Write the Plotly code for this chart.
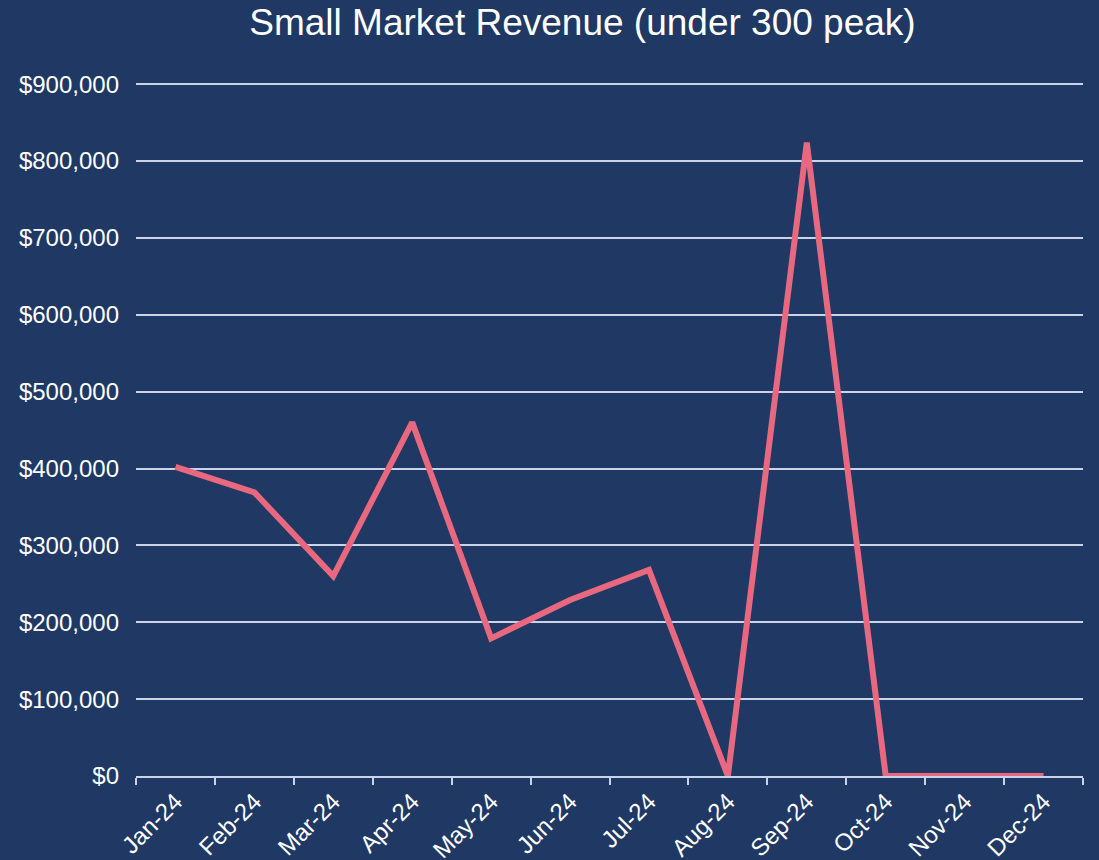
import plotly.graph_objects as go

months = ['Jan-24', 'Feb-24', 'Mar-24', 'Apr-24', 'May-24', 'Jun-24',
          'Jul-24', 'Aug-24', 'Sep-24', 'Oct-24', 'Nov-24', 'Dec-24']
revenue = [402000, 369000, 260000, 460000, 179000, 229000,
           268000, 0, 824000, 0, 0, 0]
y_ticks = [0, 100000, 200000, 300000, 400000, 500000, 600000, 700000, 800000, 900000]

bg = '#203864'
grid = '#C9D3EA'

fig = go.Figure(go.Scatter(
	x=months, y=revenue, mode='lines',
	line=dict(color='#E8697F', width=6),
	hovertemplate='%{x}: $%{y:,.0f}<extra></extra>'
))

fig.update_layout(
	width=1099, height=860,
	title=dict(text='Small Market Revenue (under 300 peak)', x=0.53, xanchor='center',
	           y=0.974, yanchor='middle', font=dict(size=37, color='white')),
	font=dict(family='Liberation Sans, Arial', color='white', size=24),
	paper_bgcolor=bg,  # dark navy
	plot_bgcolor=bg,
	margin=dict(l=136, r=16, t=83, b=84),
	showlegend=False
)
fig.update_xaxes(
	type='category', tickson='boundaries', ticks='outside', ticklen=7,
	tickcolor=grid, tickwidth=2, showline=True, linecolor=grid, linewidth=2,
	showgrid=False, tickangle=-45, range=[-0.5, 11.5], automargin=False
)
fig.update_yaxes(
	range=[0, 901500], tickvals=y_ticks, tickformat='$,.0f', automargin=False,
	gridcolor=grid, gridwidth=2, zeroline=False, ticks='', ticklabelstandoff=16
)

# no white page border around the figure
fig.write_html("out.html", config={'displayModeBar': False},
               post_script="document.body.style.margin='0';")
